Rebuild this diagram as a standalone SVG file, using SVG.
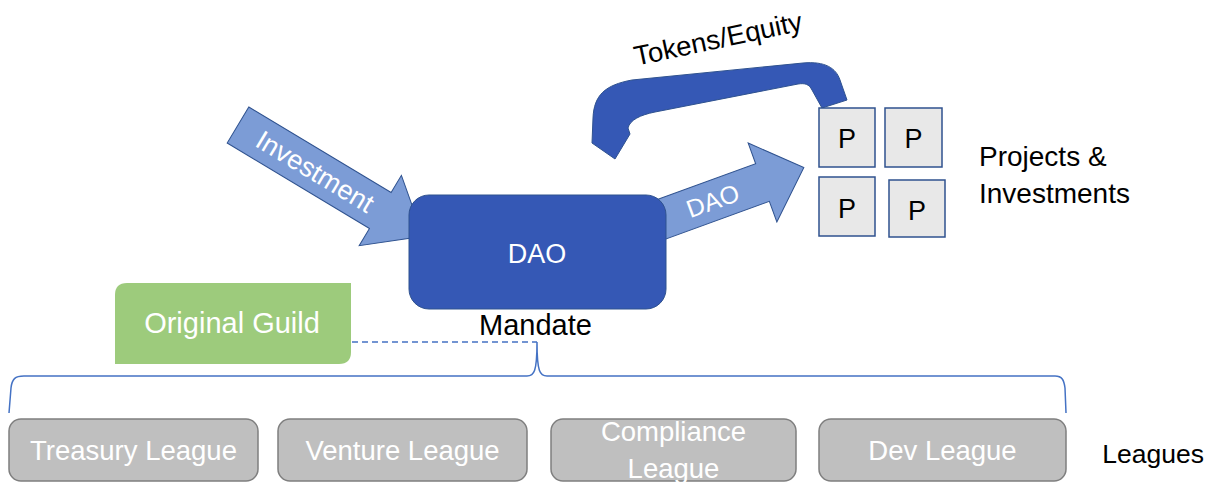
<svg xmlns="http://www.w3.org/2000/svg" width="1213" height="482" viewBox="0 0 1213 482">
<style>
text{font-family:"Liberation Sans",Arial,sans-serif;}
.arrowL{fill:#7C9CD6;stroke:#2F528F;stroke-width:1;}
.wt{fill:#ffffff;}
.bk{fill:#000000;}
.pbox{fill:#E8E8E8;stroke:#2F528F;stroke-width:1.5;}
.league{fill:#BFBFBF;stroke:#7F7F7F;stroke-width:1.5;}
.blue{fill:none;stroke:#4472C4;stroke-width:1.5;}
</style>
<rect width="1213" height="482" fill="#ffffff"/>
<g id="connectors">
  <g id="investment-arrow" transform="translate(238,125) rotate(31)">
    <polygon class="arrowL" points="0,-21 166,-21 166,-41 216,0 166,41 166,21 0,21"/>
    <text class="wt" x="90" y="9.5" font-size="27" text-anchor="middle">Investment</text>
  </g>
  <g id="dao-arrow" transform="translate(762.5,182.5) rotate(-20)">
    <polygon class="arrowL" points="-150,-20 0,-20 0,-42 44,0 0,42 0,20 -150,20"/>
    <text class="wt" x="-53" y="9" font-size="25" text-anchor="middle">DAO</text>
  </g>
  <g id="tokens-arrow">
    <path d="M 592,143 L 593,118 C 594,95 605,85 632,80 L 803,63 C 825,61 836,68 840,80 L 847,100 L 822,108 L 812,90 C 809,84 805,83 798,84 L 655,112 C 640,115 630,120 628,128 L 630,134 L 615,159 Z" fill="#3558B5" stroke="#2F528F" stroke-width="1"/>
    <text class="bk" transform="translate(720,48) rotate(-12)" font-size="27.5" text-anchor="middle">Tokens/Equity</text>
  </g>
  <line id="guild-link" class="blue" x1="352" y1="342" x2="537" y2="342" stroke-dasharray="6 4"/>
  <path id="brace" class="blue" d="M 9,413 L 11,388 C 12,379 15,376 24,376 L 527,376 C 534,376 537,372 537,342 C 537,372 540,376 547,376 L 1055,376 C 1062,376 1064,380 1065,388 L 1066,413"/>
</g>
<g id="dao">
  <rect x="409" y="195" width="257" height="114" rx="20" ry="20" fill="#3558B5" stroke="#2F528F" stroke-width="1"/>
  <text class="wt" x="537" y="263" font-size="27" text-anchor="middle">DAO</text>
</g>
<g id="mandate-label">
  <text class="bk" x="535.5" y="335" font-size="29" text-anchor="middle">Mandate</text>
</g>
<g id="original-guild">
  <path d="M 127,283 L 351,283 L 351,352 Q 351,364 339,364 L 115,364 L 115,295 Q 115,283 127,283 Z" fill="#9DCB7C"/>
  <text class="wt" x="232" y="333" font-size="29" text-anchor="middle">Original Guild</text>
</g>
<g id="p1"><rect class="pbox" x="819" y="108" width="56" height="59"/><text class="bk" x="847" y="148" font-size="27" text-anchor="middle">P</text></g>
<g id="p2"><rect class="pbox" x="885" y="108" width="57" height="59"/><text class="bk" x="913.5" y="148" font-size="27" text-anchor="middle">P</text></g>
<g id="p3"><rect class="pbox" x="819" y="177" width="56" height="59"/><text class="bk" x="847" y="218" font-size="27" text-anchor="middle">P</text></g>
<g id="p4"><rect class="pbox" x="889" y="180" width="56" height="57"/><text class="bk" x="917" y="220" font-size="27" text-anchor="middle">P</text></g>
<g id="projects-label">
  <text class="bk" x="979" y="166" font-size="28">Projects &amp;</text>
  <text class="bk" x="979" y="203" font-size="28">Investments</text>
</g>
<g id="treasury-league">
  <rect class="league" x="9" y="419" width="249" height="62" rx="12" ry="12"/>
  <text class="wt" x="133.5" y="460" font-size="27.5" text-anchor="middle">Treasury League</text>
</g>
<g id="venture-league">
  <rect class="league" x="278" y="419" width="249" height="62" rx="12" ry="12"/>
  <text class="wt" x="402.5" y="460" font-size="27.5" text-anchor="middle">Venture League</text>
</g>
<g id="compliance-league">
  <rect class="league" x="551" y="419" width="245" height="62" rx="12" ry="12"/>
  <text class="wt" x="673.5" y="441" font-size="27.5" text-anchor="middle">Compliance</text>
  <text class="wt" x="673.5" y="478" font-size="27.5" text-anchor="middle">League</text>
</g>
<g id="dev-league">
  <rect class="league" x="819" y="419" width="247" height="62" rx="12" ry="12"/>
  <text class="wt" x="942.5" y="460" font-size="27.5" text-anchor="middle">Dev League</text>
</g>
<g id="leagues-label">
  <text class="bk" x="1204" y="463" font-size="26.5" text-anchor="end">Leagues</text>
</g>
</svg>
